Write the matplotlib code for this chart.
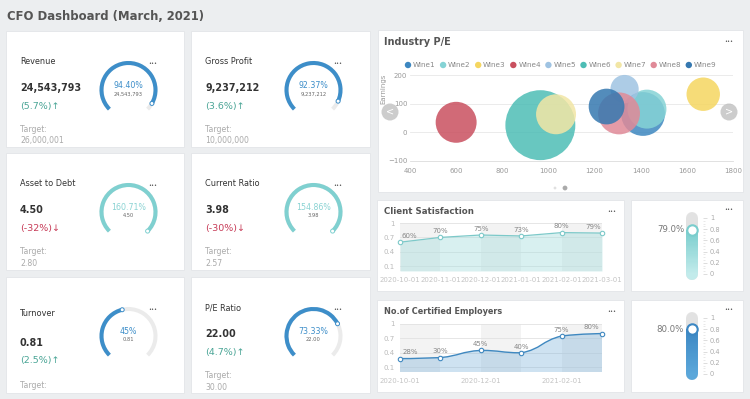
import numpy as np
import matplotlib
matplotlib.use("Agg")
import matplotlib.pyplot as plt
from matplotlib.patches import Rectangle, Arc, Circle, PathPatch
from matplotlib.path import Path
from matplotlib.collections import LineCollection
from matplotlib.colors import to_rgb

W, H = 750, 399

# --- KPI cards ---
kpi_names = ["Revenue", "Gross Profit", "Asset to Debt", "Current Ratio", "Turnover", "P/E Ratio"]
kpi_values = ["24,543,793", "9,237,212", "4.50", "3.98", "0.81", "22.00"]
kpi_changes = [5.7, 3.6, -32, -30, 2.5, 4.7]
kpi_targets = ["26,000,001", "10,000,000", "2.80", "2.57", "1.80", "30.00"]
kpi_percent = [94.40, 92.37, 160.71, 154.86, 45, 73.33]
kpi_pct_labels = ["94.40%", "92.37%", "160.71%", "154.86%", "45%", "73.33%"]

# --- Industry P/E bubbles ---
wine_names = ["Wine1", "Wine2", "Wine3", "Wine4", "Wine5", "Wine6", "Wine7", "Wine8", "Wine9"]
wine_pe = [1410, 1427, 1671, 600, 1330, 965, 1033, 1306, 1252]
wine_earnings = [64, 81, 133, 35, 151, 25, 63, 66, 90]
wine_volume = [480, 380, 280, 420, 200, 1225, 400, 440, 320]

# --- monthly series ---
months = ["2020-10-01", "2020-11-01", "2020-12-01", "2021-01-01", "2021-02-01", "2021-03-01"]
client_satisfaction = [0.60, 0.70, 0.75, 0.73, 0.80, 0.79]
certified_employers = [0.28, 0.30, 0.45, 0.40, 0.75, 0.80]

BLUE = "#3d8ec9"
TEAL = "#7fd0d0"
wine_colors = ["#3d87c0", "#85d3d5", "#f5d660", "#c9505f", "#9fc3e2",
               "#4dbdb5", "#f2e6a5", "#e08a98", "#3578b0"]

fig = plt.figure(figsize=(W / 100, H / 100), dpi=100)
fig.patch.set_facecolor("#eceef0")
bg = fig.add_axes([0, 0, 1, 1])
bg.set_xlim(0, W)
bg.set_ylim(H, 0)
bg.axis("off")


def px_axes(l, t, r, b, **kw):
    return fig.add_axes([l / W, 1 - b / H, (r - l) / W, (b - t) / H], **kw)


def card(l, t, r, b):
    rect = Rectangle((l, t), r - l, b - t, facecolor="white", edgecolor="#e3e5e8", lw=0.6)
    bg.add_patch(rect)
    return rect


def menu(x, y):
    bg.text(x, y, "\u2022\u2022\u2022", fontsize=3.8, color="#555", ha="center", va="center")


bg.text(7, 17, "CFO Dashboard (March, 2021)", fontsize=8.4, fontweight="bold",
        color="#555", va="center")

# ---- KPI cards with ring gauges ----
col_left = [6, 191]
col_right = [184, 370]
row_top = [31, 153, 277]
row_bot = [147, 270, 393]
gauge_colors = [BLUE, BLUE, TEAL, TEAL, BLUE, BLUE]
pct_colors = [BLUE, BLUE, "#8ad3d3", "#8ad3d3", BLUE, BLUE]

for i, name in enumerate(kpi_names):
    r_, c_ = divmod(i, 2)
    l, t, b = col_left[c_], row_top[r_], row_bot[r_]
    rect = card(l, t, col_right[c_], b)
    s1, s2 = (5, 9) if name == "Turnover" else (0, 0)
    tx = l + 14
    bg.text(tx, t + 31 + s1, name, fontsize=5.9, color="#333", va="center")
    bg.text(tx, t + 57 + s2, kpi_values[i], fontsize=6.9, fontweight="bold", color="#333", va="center")
    ch = kpi_changes[i]
    arrow = "\u2191" if ch >= 0 else "\u2193"
    bg.text(tx, t + 75 + s2, f"({ch:g}%){arrow}", fontsize=6.8,
            color="#4aa596" if ch >= 0 else "#c73b57", va="center")
    bg.text(tx, t + 99 + s2, "Target:", fontsize=5.6, color="#aaa", va="center")
    # the target value of the last row falls below the card edge
    if t + 110 + s2 < b - 3:
        bg.text(tx, t + 110 + s2, kpi_targets[i], fontsize=5.6, color="#aaa", va="center")

    # ring gauge (270 degree sweep)
    cx, cy, rad = l + 122.5, t + 59, 27
    bg.add_patch(Arc((cx, cy), 2 * rad, 2 * rad, theta1=135, theta2=405, color="#ebebeb", lw=2.9))
    frac = min(kpi_percent[i] / 100, 1.0)
    end = 135 + 270 * frac
    bg.add_patch(Arc((cx, cy), 2 * rad, 2 * rad, theta1=135, theta2=end, color=gauge_colors[i], lw=2.9))
    a = np.radians(end)
    bg.add_patch(Circle((cx + rad * np.cos(a), cy + rad * np.sin(a)), 2.0,
                        facecolor="white", edgecolor=gauge_colors[i], lw=0.7, zorder=5))
    bg.text(cx, cy - 5, kpi_pct_labels[i], fontsize=5.7, color=pct_colors[i], ha="center", va="center")
    bg.text(cx, cy + 3.8, kpi_values[i], fontsize=3.7, color="#666", ha="center", va="center")
    menu(l + 147, t + 33)

# ---- right column cards ----
card(378, 30, 743, 192)
card(377, 200, 624, 291)
card(631, 200, 743, 291)
card(377, 300, 624, 392)
card(631, 300, 743, 392)
for x, y in [(729, 42), (612, 211), (729, 210), (612, 311), (729, 310)]:
    menu(x, y)

bg.text(384, 42, "Industry P/E", fontsize=7, fontweight="bold", color="#555", va="center")
bg.text(384, 211, "Client Satisfaction", fontsize=6.2, fontweight="bold", color="#555", va="center")
bg.text(384, 311, "No.of Certified Employers", fontsize=5.9, fontweight="bold", color="#555", va="center")

# ---- bubble chart ----
ax = px_axes(410, 75, 733, 161)
ax.patch.set_alpha(0)
ax.set_xlim(400, 1800)
ax.set_ylim(-100, 200)
ax.set_xticks(range(400, 1801, 200))
ax.set_yticks([-100, 0, 100, 200])
ax.grid(axis="y", color="#e8e8e8", lw=0.6)
ax.set_axisbelow(True)
for sp in ax.spines.values():
    sp.set_visible(False)
ax.spines["bottom"].set_visible(True)
ax.spines["bottom"].set_color("#dcdcdc")
ax.spines["bottom"].set_linewidth(0.6)
ax.tick_params(length=0, labelsize=5, labelcolor="#999")
ax.tick_params(axis="x", pad=5)
ax.tick_params(axis="y", pad=2)
ax.set_ylabel("Earnings", fontsize=5, color="#999")
ax.yaxis.set_label_coords(-0.074, 0.84)
ax.scatter(wine_pe, wine_earnings, s=np.array(wine_volume) * 2.07, c=wine_colors,
           alpha=0.85, lw=0, clip_on=False, zorder=3)

top = fig.add_axes([0, 0, 1, 1], zorder=20)
top.set_xlim(0, W)
top.set_ylim(H, 0)
top.axis("off")
for k, (nm, col) in enumerate(zip(wine_names, wine_colors)):
    lx = 408 + k * 35.1
    top.add_patch(Circle((lx, 65), 3.2, facecolor=col, lw=0))
    top.text(lx + 5, 65, nm, fontsize=5.2, color="#888", va="center")
for x, chv in [(390, "<"), (729, ">")]:
    top.add_patch(Circle((x, 112), 8.5, facecolor="#bcbcbc", alpha=0.75, lw=0))
    top.text(x, 112, chv, color="white", ha="center", va="center", fontsize=7)
top.add_patch(Circle((555, 188), 1.4, facecolor="#e0e0e0", lw=0))
top.add_patch(Circle((565, 188), 2.4, facecolor="#aaaaaa", lw=0))


# ---- line panels ----
def smooth_path(xs, ys, k=0.5):
    pts = np.column_stack([xs, ys]).astype(float)
    n = len(pts)
    verts = [pts[0]]
    codes = [Path.MOVETO]
    for i in range(n - 1):
        p0, p1 = pts[i], pts[i + 1]
        prev = pts[max(i - 1, 0)]
        nxt = pts[min(i + 2, n - 1)]
        c1 = p0 + (p1 - prev) * k / 2 if i > 0 else p0.copy()
        c2 = p1 - (nxt - p0) * k / 2 if i + 1 < n - 1 else p1.copy()
        lo, hi = min(p0[1], p1[1]), max(p0[1], p1[1])
        c1[1] = np.clip(c1[1], lo, hi)
        c2[1] = np.clip(c2[1], lo, hi)
        verts += [c1, c2, p1]
        codes += [Path.CURVE4] * 3
    return verts, codes


def line_panel(box, values, color, fill, fill_alpha, smooth, label_step, dx):
    axl = px_axes(*box)
    axl.set_facecolor("white")
    xs = np.arange(len(values))
    axl.set_xlim(0, len(values) - 1)
    axl.set_ylim(0, 1)
    for i in range(0, len(values) - 1, 2):
        axl.axvspan(i, i + 1, color="#f3f3f3", lw=0, zorder=0)
    axl.set_yticks([0.1, 0.4, 0.7, 1.0])
    axl.set_yticklabels(["0.1", "0.4", "0.7", "1"])
    axl.grid(axis="y", color="#e2e2e2", lw=0.6)
    axl.set_axisbelow(True)
    axl.set_xticks(xs[::label_step])
    axl.set_xticklabels(months[::label_step])
    for sp in axl.spines.values():
        sp.set_visible(False)
    axl.tick_params(length=0, labelsize=5, labelcolor="#c4c4c4")
    axl.tick_params(axis="x", pad=4.5)
    axl.tick_params(axis="y", pad=4, labelcolor="#bbb")
    if smooth:
        verts, codes = smooth_path(xs, values)
        axl.add_patch(PathPatch(Path(verts, codes), fill=False, edgecolor=color, lw=1.0, zorder=3))
        fv = verts + [(xs[-1], 0), (0, 0), (0, 0)]
        fc = codes + [Path.LINETO, Path.LINETO, Path.CLOSEPOLY]
        axl.add_patch(PathPatch(Path(fv, fc), facecolor=fill, alpha=fill_alpha, lw=0, zorder=2))
    else:
        axl.plot(xs, values, color=color, lw=0.9, zorder=3)
        axl.fill_between(xs, 0, values, color=fill, alpha=fill_alpha, lw=0, zorder=2)
    axl.plot(xs, values, "o", mfc="white", mec=color, ms=3.2, mew=0.8, clip_on=False, zorder=4)
    n = len(values)
    for i, v in enumerate(values):
        ha, off = "center", 0
        if i == 0:
            ha, off = "left", dx
        elif i == n - 1:
            ha, off = "right", -dx
        axl.annotate(f"{v:.0%}", (i, v), xytext=(off, 2.3), textcoords="offset points",
                     ha=ha, va="bottom", fontsize=5, color="#888", annotation_clip=False)


line_panel((400, 223, 602, 271), client_satisfaction, "#7cc9c9", "#a9dede", 0.45, False, 1, 0.8)
line_panel((400, 324, 602, 372), certified_employers, "#3f88c0", "#7fb3db", 0.38, True, 2, 2)


# ---- thermometer gauges ----
def thermo(box, value, top_col, bot_col):
    axt = px_axes(*box)
    axt.patch.set_alpha(0)
    axt.set_xlim(-1, 1)
    axt.set_ylim(0, 1)
    for sp in axt.spines.values():
        sp.set_visible(False)
    axt.set_xticks([])
    axt.yaxis.tick_right()
    axt.set_yticks(np.arange(0, 1.01, 0.2))
    axt.set_yticklabels(["0", "0.2", "0.4", "0.6", "0.8", "1"])
    axt.set_yticks(np.arange(0, 1.001, 0.05), minor=True)
    axt.tick_params(axis="y", which="major", length=3, width=0.5, color="#cfcfcf",
                    labelsize=4.8, labelcolor="#aaa", pad=2)
    axt.tick_params(axis="y", which="minor", length=1.6, width=0.4, color="#d8d8d8")
    lw = 8.6
    axt.plot([0, 0], [0, 1], color="#e2e2e2", lw=lw, solid_capstyle="round", clip_on=False, zorder=1)
    axt.plot([0, 0], [0, 0.02], color=bot_col, lw=lw, solid_capstyle="round", clip_on=False, zorder=2)
    ys = np.linspace(0, value, 40)
    segs = [[(0, ys[j]), (0, ys[j + 1])] for j in range(len(ys) - 1)]
    c0, c1 = np.array(to_rgb(bot_col)), np.array(to_rgb(top_col))
    cols = [c0 + (c1 - c0) * j / (len(segs) - 1) for j in range(len(segs))]
    axt.add_collection(LineCollection(segs, colors=cols, lw=lw, capstyle="butt", zorder=3, clip_on=False))
    axt.plot(0, value, "o", ms=7.5, mfc="white", mec=top_col, mew=1.5, clip_on=False, zorder=4)
    axt.text(-0.72, value, f"{value:.1%}", ha="right", va="center", fontsize=6.2, color="#777")


thermo((681, 218, 703, 274), client_satisfaction[-1], "#79cdcd", "#c2ebeb")
thermo((681, 318, 703, 374), certified_employers[-1], "#3c87c3", "#5ba7da")

fig.savefig("out.png", dpi=100, facecolor=fig.get_facecolor())
